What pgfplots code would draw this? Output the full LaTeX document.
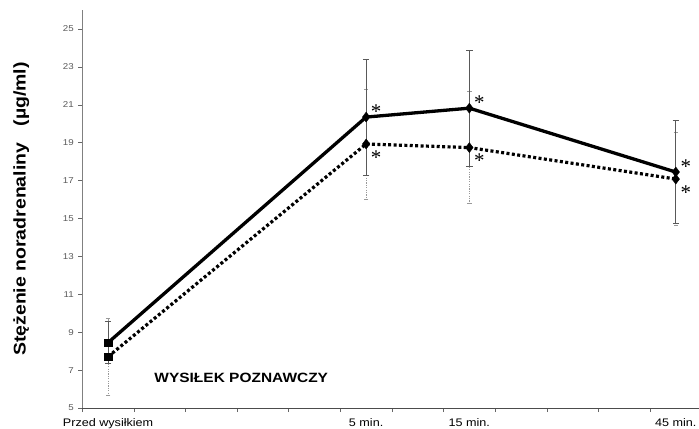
\documentclass[border=0pt]{standalone}
\usepackage{pgfplots}
\pgfplotsset{compat=1.18}
\usepackage{fontspec}
\setmainfont{Liberation Sans}[FakeStretch=1.15]
\newfontfamily\astfont{Liberation Serif}
\begin{document}
\begin{tikzpicture}
\begin{axis}[
  scale only axis,
  width=616.7bp, height=398bp,
  xmin=0, xmax=11.95, ymin=5, ymax=26,
  axis lines=left,
  axis line style={-},
  x axis line style={draw=black!70, line width=0.6bp},
  y axis line style={draw=black!50, line width=0.6bp},
  xtick={0,...,11}, xticklabels={},
  ytick={5,7,...,25},
  tick align=outside,
  major tick length=4bp,
  tick style={black!60, line width=0.5bp},
  yticklabel style={font=\fontsize{8.5}{9}\selectfont, text=black!65, xshift=-1bp},
  /pgf/number format/assume math mode=true,
  extra x ticks={0.5,5.5,7.5,11.5},
  extra x tick labels={Przed wysiłkiem, 5 min., 15 min., 45 min.},
  extra x tick style={tick style={draw=none}, xticklabel style={font=\fontsize{11}{12}\selectfont, text=black, yshift=-3.5bp}},
  ylabel={Stężenie noradrenaliny\ \ \ (µg/ml)},
  every axis y label/.style={at={(rel axis cs:0,0.5)}, xshift=-61bp, rotate=90, anchor=center, font=\fontsize{17}{19}\selectfont\bfseries},
  clip=false,
]
% error bars, dotted series
\addplot[mark=none, draw=none, forget plot,
  error bars/.cd, y dir=both, y explicit,
  error bar style={draw=black!40, line width=0.8bp, dash pattern=on 1.2bp off 1.2bp},
  error mark options={rotate=90, draw=black!40, mark size=2.2bp, solid, line width=0.6bp}]
  coordinates {(0.5,7.71) +- (0,2.02) (5.5,18.93) +- (0,2.9) (7.5,18.74) +- (0,2.95) (11.5,17.08) +- (0,2.45)};
% error bars, solid series
\addplot[mark=none, draw=none, forget plot,
  error bars/.cd, y dir=both, y explicit,
  error bar style={draw=black!65, line width=0.6bp, solid},
  error mark options={rotate=90, draw=black!65, mark size=3.2bp, line width=0.6bp}]
  coordinates {(0.5,8.45) +- (0,1.1) (5.5,20.35) +- (0,3.07) (7.5,20.82) +- (0,3.07) (11.5,17.45) +- (0,2.72)};
% dotted series line
\addplot[black, line width=3.2bp, dash pattern=on 3bp off 2.4bp, mark=none]
  coordinates {(0.5,7.71) (5.5,18.93) (7.5,18.74) (11.5,17.08)};
% solid series line
\addplot[black, line width=3.3bp, mark=none]
  coordinates {(0.5,8.45) (5.5,20.35) (7.5,20.82) (11.5,17.45)};
% markers
\addplot[only marks, mark=square*, mark size=3.9bp, black]
  coordinates {(0.5,8.45) (0.5,7.71)};
\addplot[only marks, mark=diamond*, mark size=5bp, black]
  coordinates {(5.5,20.35) (7.5,20.82) (11.5,17.45) (5.5,18.93) (7.5,18.74) (11.5,17.08)};
% asterisks
\addplot[only marks, mark=*, mark options={draw=none, fill=none},
  nodes near coords, point meta=explicit symbolic,
  nodes near coords style={anchor=center, font=\astfont\fontsize{21}{21}\selectfont, xshift=10bp, yshift=5.5bp}]
  coordinates {(5.5,20.35)[*] (7.5,20.82)[*] (11.5,17.45)[*]};
\addplot[only marks, mark=*, mark options={draw=none, fill=none},
  nodes near coords, point meta=explicit symbolic,
  nodes near coords style={anchor=center, font=\astfont\fontsize{21}{21}\selectfont, xshift=10bp, yshift=-13.5bp}]
  coordinates {(5.5,18.93)[*] (7.5,18.74)[*] (11.5,17.08)[*]};
\node[font=\fontsize{13.5}{14}\selectfont\bfseries, anchor=center] at (axis cs:3.08,6.58) {WYSIŁEK POZNAWCZY};
\end{axis}
\pgfresetboundingbox
\path[use as bounding box] ([xshift=-82.3bp,yshift=-21bp]current axis.south west) rectangle ([yshift=10bp]current axis.north east);
\end{tikzpicture}
\end{document}
